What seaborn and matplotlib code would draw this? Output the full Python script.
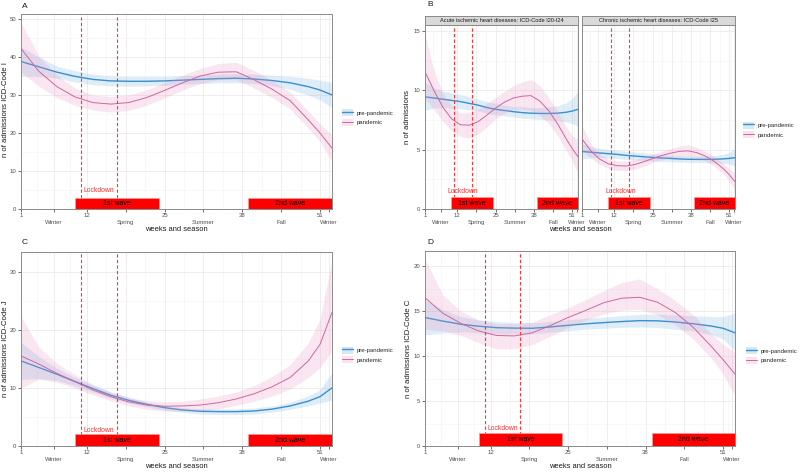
import matplotlib
matplotlib.use("Agg")
import matplotlib.pyplot as plt
import seaborn as sns
import pandas as pd
from matplotlib.lines import Line2D
from matplotlib.patches import Patch, Rectangle

weeks = [1, 4, 7, 10, 13, 16, 19, 22, 25, 28, 31, 34, 37, 40, 43, 46, 49, 51, 53]

# A: ICD-Code I
a_pre = [38.8, 37.4, 36.0, 34.9, 34.1, 33.7, 33.6, 33.6, 33.7, 33.9, 34.1, 34.3, 34.4, 34.2, 33.8, 33.2, 32.2, 31.3, 30.0]
a_pre_lo = [35.0, 34.9, 34.4, 33.4, 32.7, 32.4, 32.3, 32.4, 32.5, 32.8, 33.0, 33.2, 33.2, 33.0, 32.4, 31.5, 30.0, 28.7, 26.7]
a_pre_hi = [42.6, 40.0, 37.6, 36.4, 35.5, 35.0, 34.9, 34.9, 34.9, 35.1, 35.3, 35.5, 35.6, 35.5, 35.2, 34.9, 34.4, 33.9, 33.3]
a_pan = [42.2, 36.2, 32.2, 29.5, 28.0, 27.6, 28.0, 29.3, 31.2, 33.2, 35.0, 36.0, 36.1, 34.0, 31.5, 28.5, 23.5, 20.0, 16.0]
a_pan_lo = [36.0, 32.3, 29.3, 27.3, 26.0, 25.5, 25.9, 27.3, 29.2, 31.3, 33.0, 34.0, 34.0, 31.8, 29.3, 26.3, 21.3, 17.7, 12.5]
a_pan_hi = [49.0, 40.3, 35.2, 31.8, 30.0, 29.6, 30.0, 31.3, 33.2, 35.2, 37.0, 38.3, 38.6, 36.4, 33.8, 30.8, 25.8, 22.4, 19.4]

# B left: acute ischemic heart diseases I20-I24
b1_pre = [9.45, 9.35, 9.25, 9.15, 9.05, 8.9, 8.75, 8.55, 8.4, 8.3, 8.2, 8.12, 8.07, 8.05, 8.05, 8.07, 8.15, 8.25, 8.4]
b1_pre_lo = [8.3, 8.5, 8.55, 8.5, 8.45, 8.35, 8.25, 8.05, 7.95, 7.85, 7.75, 7.65, 7.6, 7.55, 7.5, 7.45, 7.35, 7.2, 7.0]
b1_pre_hi = [10.7, 10.2, 9.95, 9.8, 9.65, 9.45, 9.25, 9.05, 8.9, 8.75, 8.65, 8.6, 8.55, 8.55, 8.6, 8.7, 8.95, 9.3, 9.9]
b1_pan = [11.55, 10.0, 8.6, 7.6, 7.1, 7.06, 7.35, 7.9, 8.5, 9.0, 9.35, 9.5, 9.55, 9.1, 8.3, 7.2, 5.9, 5.1, 4.4]
b1_pan_lo = [9.3, 8.4, 7.4, 6.6, 6.1, 6.0, 6.3, 6.9, 7.6, 8.1, 8.4, 8.4, 8.3, 7.9, 7.2, 6.2, 4.9, 4.1, 3.0]
b1_pan_hi = [14.7, 11.7, 9.8, 8.7, 8.1, 8.1, 8.4, 8.9, 9.4, 9.9, 10.4, 10.7, 10.9, 10.4, 9.4, 8.3, 6.9, 6.2, 5.8]

# B right: chronic ischemic heart diseases I25
b2_pre = [4.85, 4.78, 4.72, 4.66, 4.6, 4.52, 4.46, 4.4, 4.35, 4.3, 4.26, 4.22, 4.19, 4.18, 4.18, 4.19, 4.22, 4.26, 4.32]
b2_pre_lo = [4.2, 4.3, 4.35, 4.3, 4.25, 4.18, 4.12, 4.07, 4.05, 4.02, 3.98, 3.95, 3.93, 3.92, 3.9, 3.88, 3.85, 3.8, 3.6]
b2_pre_hi = [5.5, 5.25, 5.1, 5.0, 4.95, 4.87, 4.8, 4.73, 4.65, 4.58, 4.53, 4.49, 4.46, 4.44, 4.46, 4.5, 4.6, 4.75, 5.1]
b2_pan = [5.9, 4.9, 4.2, 3.8, 3.65, 3.62, 3.75, 3.98, 4.25, 4.5, 4.7, 4.85, 4.9, 4.75, 4.45, 4.0, 3.4, 2.9, 2.3]
b2_pan_lo = [4.9, 4.3, 3.75, 3.4, 3.25, 3.22, 3.35, 3.6, 3.9, 4.15, 4.3, 4.4, 4.4, 4.3, 4.05, 3.6, 2.95, 2.4, 1.6]
b2_pan_hi = [7.0, 5.5, 4.65, 4.2, 4.05, 4.02, 4.15, 4.37, 4.6, 4.85, 5.1, 5.3, 5.4, 5.2, 4.85, 4.4, 3.85, 3.4, 3.0]

# C: ICD-Code J
c_pre = [14.65, 13.5, 12.36, 11.1, 9.9, 8.74, 7.87, 7.18, 6.6, 6.2, 5.98, 5.92, 5.92, 6.03, 6.35, 6.9, 7.7, 8.5, 10.0]
c_pre_lo = [11.5, 11.6, 11.3, 10.4, 9.3, 8.2, 7.4, 6.75, 6.2, 5.8, 5.5, 5.4, 5.4, 5.5, 5.85, 6.3, 6.9, 7.4, 7.9]
c_pre_hi = [17.8, 15.4, 13.4, 11.8, 10.5, 9.3, 8.35, 7.6, 7.0, 6.6, 6.4, 6.4, 6.4, 6.55, 6.9, 7.5, 8.6, 9.7, 12.6]
c_pan = [15.5, 14.1, 12.5, 11.1, 9.65, 8.5, 7.6, 7.05, 6.85, 6.9, 7.05, 7.45, 8.1, 9.0, 10.2, 11.8, 14.6, 17.5, 23.0]
c_pan_lo = [10.0, 11.5, 11.0, 10.0, 8.8, 7.8, 6.9, 6.3, 6.0, 6.0, 6.1, 6.4, 7.0, 7.7, 8.6, 9.8, 11.8, 13.5, 16.4]
c_pan_hi = [22.3, 17.0, 14.2, 12.3, 10.6, 9.3, 8.4, 7.8, 7.6, 7.7, 8.1, 8.6, 9.3, 10.4, 12.0, 14.0, 17.7, 21.8, 32.0]

# D: ICD-Code C
d_pre = [14.3, 13.9, 13.55, 13.33, 13.17, 13.12, 13.1, 13.25, 13.43, 13.6, 13.73, 13.85, 13.95, 13.93, 13.8, 13.6, 13.35, 13.1, 12.6]
d_pre_lo = [12.4, 12.6, 12.7, 12.6, 12.5, 12.5, 12.5, 12.65, 12.8, 13.0, 13.1, 13.2, 13.25, 13.2, 13.0, 12.8, 12.4, 11.9, 10.6]
d_pre_hi = [16.2, 15.2, 14.4, 14.05, 13.85, 13.75, 13.7, 13.85, 14.05, 14.2, 14.35, 14.5, 14.65, 14.65, 14.6, 14.5, 14.4, 14.4, 14.8]
d_pan = [16.5, 14.77, 13.65, 12.8, 12.3, 12.25, 12.6, 13.4, 14.3, 15.1, 15.95, 16.45, 16.55, 16.0, 14.85, 13.2, 11.1, 9.6, 8.0]
d_pan_lo = [13.0, 12.8, 12.3, 11.5, 10.8, 10.8, 11.3, 12.2, 13.2, 14.0, 14.7, 15.1, 15.2, 14.6, 13.5, 11.9, 9.8, 8.0, 5.6]
d_pan_hi = [20.8, 16.8, 15.0, 14.0, 13.6, 13.6, 13.8, 14.6, 15.4, 16.3, 17.3, 18.2, 18.6, 17.5, 16.2, 14.6, 12.5, 11.3, 10.5]

week_breaks = [1, 12, 25, 38, 51]
season_breaks = [6.5, 18.5, 31.5, 44.5, 52.5]
season_labels = ["Winter", "Spring", "Summer", "Fall", "Winter"]
lockdown = [11, 17]
wave1 = (10, 24)
wave2 = (39, 53)

BLUE = "#3A8FCF"
PINK = "#D0669E"
BLUE_FILL = "#5DA5DA"
PINK_FILL = "#E890BE"

sns.set_theme(style="white")
plt.rcParams["font.family"] = ["Liberation Sans", "DejaVu Sans"]

fig = plt.figure(figsize=(8, 4.72), dpi=100)


def box(l, t, r, b):
    return [l / 800, 1 - b / 472, (r - l) / 800, (b - t) / 472]


def draw_panel(ax, pre, pre_lo, pre_hi, pan, pan_lo, pan_hi, ymax, yticks,
               wave_h, lock_y, show_y=True):
    df = pd.DataFrame({"week": weeks, "pre": pre, "pan": pan})

    # grid: breaks (numbers + seasons) and lighter midpoints
    all_breaks = sorted(week_breaks + season_breaks)
    for a, b in zip(all_breaks[:-1], all_breaks[1:]):
        ax.axvline((a + b) / 2, color="#F3F3F3", lw=0.4, zorder=0)
    for a, b in zip(yticks[:-1], yticks[1:]):
        ax.axhline((a + b) / 2, color="#F3F3F3", lw=0.4, zorder=0)

    ax.fill_between(weeks, pre_lo, pre_hi, color=BLUE_FILL, alpha=0.2, lw=0, zorder=2)
    sns.lineplot(data=df, x="week", y="pre", color=BLUE, lw=1.0, ax=ax, zorder=3)
    ax.fill_between(weeks, pan_lo, pan_hi, color=PINK_FILL, alpha=0.22, lw=0, zorder=4)
    sns.lineplot(data=df, x="week", y="pan", color=PINK, lw=0.7, ax=ax, zorder=5)

    for w in lockdown:
        ax.axvline(w, color="#FF3333", lw=0.8, dashes=(3, 2), zorder=6)
    for (x0, x1), lab in [(wave1, "1st wave"), (wave2, "2nd wave")]:
        ax.add_patch(Rectangle((x0, 0), x1 - x0, wave_h, facecolor="#FF0000",
                               edgecolor="#FF9999", lw=0.5, zorder=7))
        ax.text((x0 + x1) / 2, wave_h / 2, lab, ha="center", va="center",
                fontsize=5.0, color="black", zorder=8)
    ax.text(sum(lockdown) / 2, lock_y, "Lockdown", ha="center", va="center",
            fontsize=4.9, color="#FF3333", zorder=8)

    ax.set_xlim(1, 53)
    ax.set_ylim(0, ymax)
    ax.set_xticks(week_breaks)
    ax.set_xticklabels([str(w) for w in week_breaks], fontsize=4.3, color="#4D4D4D")
    ax.set_xticks(season_breaks, minor=True)
    ax.set_xticklabels(season_labels, minor=True, fontsize=4.3, color="#4D4D4D")
    ax.set_yticks(yticks)
    if show_y:
        ax.set_yticklabels([str(v) for v in yticks], fontsize=4.3, color="#4D4D4D")
    else:
        ax.set_yticklabels([])
    ax.tick_params(axis="x", which="major", length=2, width=0.5, color="#333333", pad=1.2)
    ax.tick_params(axis="x", which="minor", length=2, width=0.5, color="#333333", pad=5.6)
    ax.tick_params(axis="y", which="major", length=2, width=0.5, color="#333333", pad=1.2,
                   left=show_y)
    ax.tick_params(axis="x", bottom=True, which="both")
    ax.grid(which="major", axis="both", color="#EBEBEB", lw=0.6, zorder=0)
    ax.grid(which="minor", axis="x", color="#EBEBEB", lw=0.6, zorder=0)
    ax.set_axisbelow(True)
    for s in ax.spines.values():
        s.set_color("#8A8A8A")
        s.set_linewidth(0.7)
    ax.set_xlabel("")
    ax.set_ylabel("")


def add_legend(ax, x, y):
    handles = [
        (Patch(facecolor=BLUE_FILL, alpha=0.25, lw=0), Line2D([], [], color=BLUE, lw=1.0)),
        (Patch(facecolor=PINK_FILL, alpha=0.25, lw=0), Line2D([], [], color=PINK, lw=0.7)),
    ]
    ax.legend(handles, ["pre-pandemic", "pandemic"], loc="center left",
              bbox_to_anchor=(x / 800, 1 - y / 472), bbox_transform=fig.transFigure,
              frameon=False, fontsize=4.3, handlelength=1.9, handleheight=1.4,
              labelspacing=0.45, borderpad=0, borderaxespad=0, handletextpad=0.6)


# panel A
ax_a = fig.add_axes(box(21, 14, 332, 209))
draw_panel(ax_a, a_pre, a_pre_lo, a_pre_hi, a_pan, a_pan_lo, a_pan_hi,
           51.3, [0, 10, 20, 30, 40, 50], 3, 4.8)
add_legend(ax_a, 342, 117.5)

# panel B, two facets
ax_b1 = fig.add_axes(box(425, 25, 578, 209))
draw_panel(ax_b1, b1_pre, b1_pre_lo, b1_pre_hi, b1_pan, b1_pan_lo, b1_pan_hi,
           15.5, [0, 5, 10, 15], 1.0, 1.45)
ax_b2 = fig.add_axes(box(582, 25, 735, 209))
draw_panel(ax_b2, b2_pre, b2_pre_lo, b2_pre_hi, b2_pan, b2_pan_lo, b2_pan_hi,
           15.5, [0, 5, 10, 15], 1.0, 1.45, show_y=False)
add_legend(ax_b2, 743, 130)

strips = ["Acute ischemic heart diseases: ICD-Code I20-I24",
          "Chronic ischemic heart diseases: ICD-Code I25"]
for (l, r), title in zip([(425, 578), (582, 735)], strips):
    st = fig.add_axes(box(l, 16, r, 25))
    st.set_facecolor("#D9D9D9")
    st.set_xticks([])
    st.set_yticks([])
    for s in st.spines.values():
        s.set_color("#8A8A8A")
        s.set_linewidth(0.7)
    st.text(0.5, 0.5, title, ha="center", va="center", fontsize=4.1,
            color="#1A1A1A", transform=st.transAxes)

# panel C
ax_c = fig.add_axes(box(21, 252, 332, 446))
draw_panel(ax_c, c_pre, c_pre_lo, c_pre_hi, c_pan, c_pan_lo, c_pan_hi,
           33.4, [0, 10, 20, 30], 2, 2.7)
add_legend(ax_c, 342, 355)

# panel D
ax_d = fig.add_axes(box(425, 251, 735, 446))
draw_panel(ax_d, d_pre, d_pre_lo, d_pre_hi, d_pan, d_pan_lo, d_pan_hi,
           21.7, [0, 5, 10, 15, 20], 1.4, 1.9)
add_legend(ax_d, 746, 355.5)

# titles and axis labels
for txt, x, y in [("A", 22, 6), ("B", 427, 5), ("C", 22, 243), ("D", 427, 243)]:
    fig.text(x / 800, 1 - y / 472, txt, ha="left", va="center", fontsize=6, color="#1A1A1A")

for txt, x, y in [("weeks and season", 176, 229.5), ("weeks and season", 580, 229.5),
                  ("weeks and season", 176, 466.5), ("weeks and season", 580, 466.5)]:
    fig.text(x / 800, 1 - y / 472, txt, ha="center", va="center", fontsize=5.4, color="#1A1A1A")

for txt, x, y in [("n of admissions ICD-Code I", 5.5, 110), ("n of admissions", 407.5, 117),
                  ("n of admissions ICD-Code J", 5.5, 349), ("n of admissions ICD-Code C", 408.5, 349)]:
    fig.text(x / 800, 1 - y / 472, txt, ha="center", va="center", rotation=90,
             fontsize=5.6, color="#1A1A1A")

fig.savefig("out.png", dpi=100)
